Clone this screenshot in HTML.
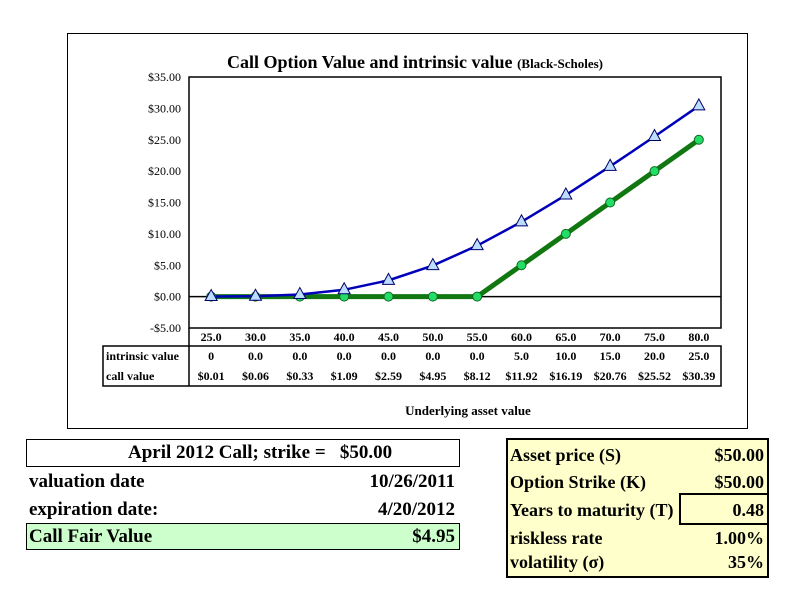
<!DOCTYPE html>
<html><head><meta charset="utf-8"><style>
body{margin:0;width:792px;height:612px;background:#fff;font-family:"Liberation Serif",serif;position:relative;overflow:hidden}
.a{position:absolute;font-weight:bold;white-space:nowrap}
</style></head><body>
<div style="position:absolute;left:67px;top:33px;width:679px;height:394px;border:1px solid #000"></div>
<svg width="792" height="612" style="position:absolute;left:0;top:0">
<g id="g"></g>
</svg>
<div class="a" style="left:26px;top:439px;width:432px;height:26px;border:1px solid #000"></div>
<div class="a" style="left:128px;top:442px;font-size:19px">April 2012 Call; strike =&nbsp;&nbsp; $50.00</div>
<div class="a" style="left:29px;top:471px;font-size:19px">valuation date</div>
<div class="a" style="right:337px;top:471px;font-size:19px">10/26/2011</div>
<div class="a" style="left:29px;top:499px;font-size:19px">expiration date:</div>
<div class="a" style="right:337px;top:499px;font-size:19px">4/20/2012</div>
<div class="a" style="left:26px;top:523px;width:432px;height:25px;border:1px solid #000;background:#ccffcc"></div>
<div class="a" style="left:29px;top:526px;font-size:19px">Call Fair Value</div>
<div class="a" style="right:337px;top:526px;font-size:19px">$4.95</div>
<div class="a" style="left:506px;top:438px;width:259px;height:136px;border:2px solid #000;background:#ffffcc"></div>
<div class="a" style="left:679px;top:493px;width:86px;height:28px;border:2px solid #000"></div>
<div class="a" style="left:510px;top:445px;font-size:18px">Asset price (S)</div>
<div class="a" style="right:28px;top:445px;font-size:18px">$50.00</div>
<div class="a" style="left:510px;top:472px;font-size:18px">Option Strike (K)</div>
<div class="a" style="right:28px;top:472px;font-size:18px">$50.00</div>
<div class="a" style="left:510px;top:500px;font-size:18px">Years to maturity (T)</div>
<div class="a" style="right:28px;top:500px;font-size:18px">0.48</div>
<div class="a" style="left:510px;top:528px;font-size:18px">riskless rate</div>
<div class="a" style="right:28px;top:528px;font-size:18px">1.00%</div>
<div class="a" style="left:510px;top:552px;font-size:18px">volatility (σ)</div>
<div class="a" style="right:28px;top:552px;font-size:18px">35%</div>
<script>
const categories=[25,30,35,40,45,50,55,60,65,70,75,80];
const intrinsic=[0,0,0,0,0,0,0,5,10,15,20,25];
const callValue=[0.01,0.06,0.33,1.09,2.59,4.95,8.12,11.92,16.19,20.76,25.52,30.39];
const intrinsicLabels=["0","0.0","0.0","0.0","0.0","0.0","0.0","5.0","10.0","15.0","20.0","25.0"];
const yTicks=[-5,0,5,10,15,20,25,30,35];
const NS="http://www.w3.org/2000/svg",g=document.getElementById('g');
const L=189,R=721,T=77,B=328;
const xs=i=>L+(R-L)/categories.length*(i+0.5);
const ys=v=>B-(v+5)/40*(B-T);
function mk(t,a,txt){const e=document.createElementNS(NS,t);for(const k in a)e.setAttribute(k,a[k]);if(txt!=null)e.textContent=txt;g.appendChild(e);return e;}
let e;
e=mk('rect',{x:L,y:T,width:R-L,height:B-T,fill:'none',stroke:'#000','stroke-width':1.5});

e=mk('line',{x1:L,x2:R,y1:ys(0),y2:ys(0),stroke:'#000','stroke-width':1.5});

yTicks.forEach(v=>{e=mk('text',{x:L-8,y:ys(v)+4,'text-anchor':'end','font-size':12,'font-family':'Liberation Serif'},(v<0?'-$':'$')+Math.abs(v).toFixed(2));
});
e=mk('text',{x:415,y:68,'text-anchor':'middle','font-size':18,'font-weight':'bold','font-family':'Liberation Serif'});
e.innerHTML='Call Option Value and intrinsic value <tspan font-size="13">(Black-Scholes)</tspan>';

e=mk('rect',{x:103,y:346,width:R-103,height:40,fill:'none',stroke:'#000','stroke-width':1.5});

e=mk('line',{x1:L,x2:L,y1:B,y2:386,stroke:'#000','stroke-width':1.5});

[['intrinsic value',360],['call value',380]].forEach(r=>{e=mk('text',{x:106,y:r[1],'font-size':12,'font-weight':'bold','font-family':'Liberation Serif'},r[0]);
});
categories.forEach((c,i)=>{
e=mk('text',{x:xs(i),y:341,'text-anchor':'middle','font-size':12,'font-weight':'bold','font-family':'Liberation Serif'},c.toFixed(1));

e=mk('text',{x:xs(i),y:360,'text-anchor':'middle','font-size':12,'font-weight':'bold','font-family':'Liberation Serif'},intrinsicLabels[i]);

e=mk('text',{x:xs(i),y:380,'text-anchor':'middle','font-size':12,'font-weight':'bold','font-family':'Liberation Serif'},'$'+callValue[i].toFixed(2));

});
e=mk('text',{x:468,y:415,'text-anchor':'middle','font-size':13,'font-weight':'bold','font-family':'Liberation Serif'},'Underlying asset value');

e=mk('polyline',{points:intrinsic.map((v,i)=>xs(i)+','+ys(v)).join(' '),fill:'none',stroke:'#117711','stroke-width':5});

e=mk('polyline',{points:callValue.map((v,i)=>xs(i)+','+ys(v)).join(' '),fill:'none',stroke:'#0000bb','stroke-width':2.5});

intrinsic.forEach((v,i)=>{e=mk('circle',{cx:xs(i),cy:ys(v),r:4.5,fill:'#22dd66',stroke:'#116622','stroke-width':1});
});
callValue.forEach((v,i)=>{const x=xs(i),y=ys(v);e=mk('polygon',{points:`${x},${y-7} ${x-6},${y+4} ${x+6},${y+4}`,fill:'#bbddff',stroke:'#000066','stroke-width':1});
});
</script>
</body></html>
